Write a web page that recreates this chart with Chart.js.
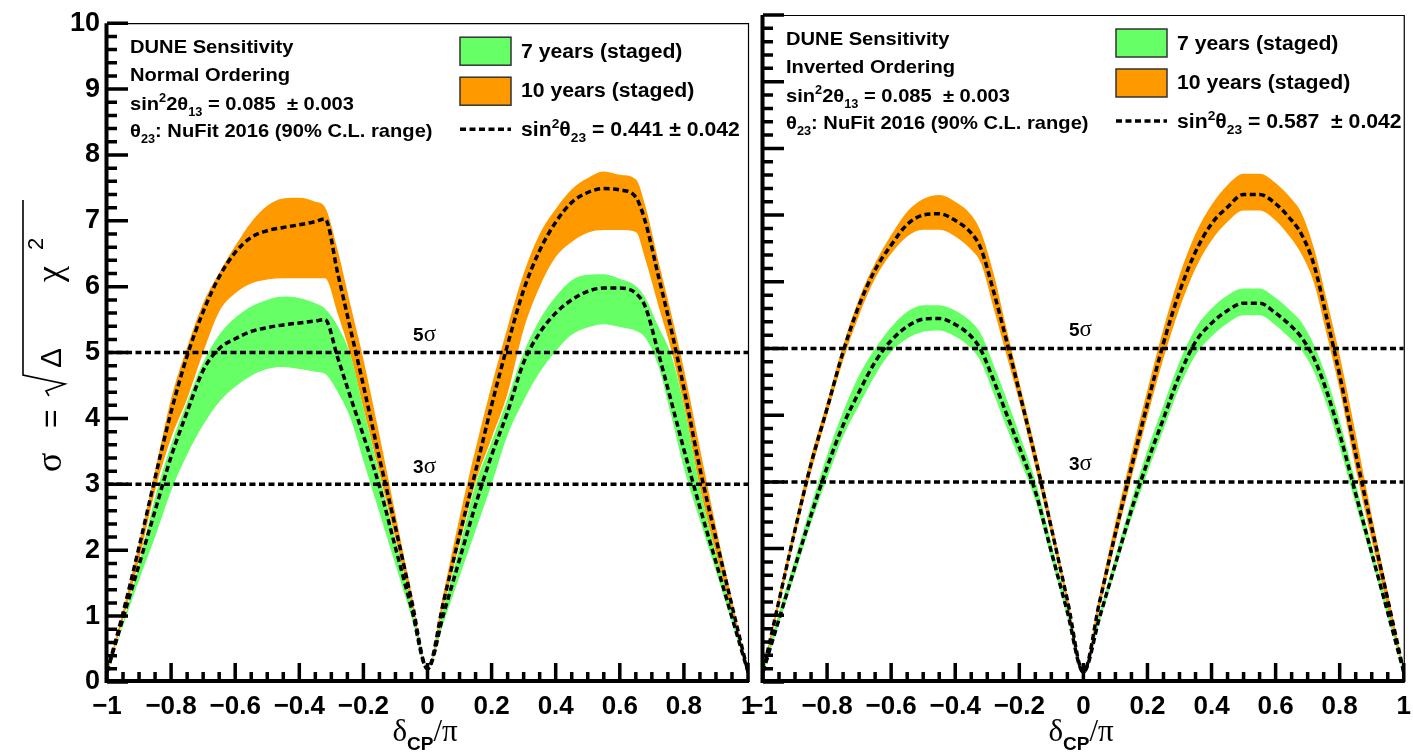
<!DOCTYPE html>
<html>
<head>
<meta charset="utf-8">
<script src="https://cdn.jsdelivr.net/npm/chart.js@4.4.1/dist/chart.umd.min.js"></script>
<style>
  html, body { margin: 0; padding: 0; background: #fff; overflow: hidden; }
  body { width: 1413px; height: 753px; position: relative; }
  canvas { position: absolute; top: 0; }
  #noChart { left: 0; width: 770px; height: 753px; }
  #ioChart { left: 720px; width: 700px; height: 753px; }
</style>
</head>
<body>
<canvas id="noChart" width="770" height="753"></canvas>
<canvas id="ioChart" width="700" height="753"></canvas>
<script>
// ── Data ─────────────────────────────────────────────────────
// delta_CP / pi sample points shared by every curve
const dcp = [-1, -0.95, -0.9, -0.85, -0.8, -0.75, -0.7, -0.65, -0.6, -0.55, -0.5, -0.45, -0.4, -0.35, -0.32,
             -0.28, -0.24, -0.2, -0.15, -0.1, -0.05, 0, 0.05, 0.1, 0.15, 0.2, 0.25, 0.3, 0.35, 0.4, 0.45,
             0.5, 0.55, 0.6, 0.65, 0.68, 0.72, 0.76, 0.8, 0.85, 0.9, 0.95, 1];

// Normal ordering: 10 years (orange) and 7 years (green), band edges + central curve
const noOrangeHi  = [0.15, 1.08, 2.1, 3.2, 4.3, 5.08, 5.75, 6.21, 6.62, 6.98, 7.23, 7.34, 7.35, 7.29, 7.21, 6.55, 5.72, 4.9, 3.75, 2.55, 1.35, 0.2,
                     1.35, 2.5, 3.54, 4.5, 5.39, 6.2, 6.8, 7.18, 7.48, 7.65, 7.75, 7.7, 7.63, 7.22, 6.4, 5.6, 4.75, 3.55, 2.36, 1.25, 0.15];
const noOrangeMid = [0.15, 1.05, 2.05, 3.1, 4.1, 4.95, 5.62, 6.15, 6.52, 6.75, 6.85, 6.9, 6.94, 6.99, 7.03, 6.2, 5.35, 4.5, 3.4, 2.35, 1.25, 0.2,
                     1.22, 2.23, 3.2, 4.2, 5.12, 5.95, 6.55, 6.98, 7.28, 7.43, 7.49, 7.47, 7.36, 6.98, 6.17, 5.36, 4.46, 3.24, 2.18, 1.16, 0.15];
const noOrangeLo  = [0.12, 0.95, 1.85, 2.9, 3.7, 4.3, 5.0, 5.62, 5.9, 6.05, 6.11, 6.13, 6.13, 6.13, 6.13, 5.59, 4.96, 4.16, 3.17, 2.18, 1.19, 0.2,
                     1.15, 2.1, 3.03, 3.7, 4.38, 5.35, 6.0, 6.45, 6.68, 6.82, 6.86, 6.86, 6.83, 6.41, 5.72, 5.05, 4.2, 2.95, 1.95, 1.05, 0.15];
const noGreenHi   = [0.12, 0.9, 1.8, 2.8, 3.6, 4.25, 4.85, 5.27, 5.53, 5.7, 5.8, 5.85, 5.83, 5.75, 5.67, 5.4, 4.96, 4.16, 3.15, 2.15, 1.18, 0.2,
                     1.12, 2.05, 3.0, 3.65, 4.3, 5.0, 5.5, 5.85, 6.1, 6.18, 6.19, 6.12, 6.01, 5.83, 5.4, 4.97, 4.2, 2.95, 1.95, 1.05, 0.15];
const noGreenMid  = [0.15, 0.97, 1.78, 2.6, 3.42, 4.1, 4.73, 5.06, 5.21, 5.32, 5.38, 5.42, 5.45, 5.48, 5.5, 4.92, 4.32, 3.74, 2.97, 2.04, 1.12, 0.2,
                     1.03, 1.86, 2.69, 3.44, 4.1, 4.85, 5.3, 5.6, 5.8, 5.93, 5.98, 5.98, 5.9, 5.69, 5.0, 4.27, 3.53, 2.65, 1.82, 0.98, 0.15];
const noGreenLo   = [0.12, 0.85, 1.55, 2.2, 2.9, 3.45, 3.9, 4.25, 4.48, 4.65, 4.75, 4.78, 4.75, 4.71, 4.68, 4.4, 4.0, 3.36, 2.57, 1.78, 0.99, 0.2,
                     0.9, 1.6, 2.3, 3.0, 3.75, 4.27, 4.7, 5.02, 5.27, 5.38, 5.43, 5.39, 5.33, 5.22, 4.8, 4.05, 3.25, 2.45, 1.68, 0.9, 0.15];

// Inverted ordering
const ioOrangeHi  = [0.18, 1.3, 2.38, 3.38, 4.2, 5.05, 5.75, 6.28, 6.7, 7.05, 7.24, 7.3, 7.2, 7.0, 6.75, 6.12, 5.3, 4.5, 3.5, 2.42, 1.3, 0.18,
                     1.3, 2.4, 3.42, 4.38, 5.3, 6.1, 6.72, 7.15, 7.45, 7.62, 7.62, 7.48, 7.24, 7.04, 6.5, 5.72, 4.9, 3.72, 2.5, 1.35, 0.18];
const ioOrangeMid = [0.15, 1.22, 2.28, 3.27, 4.1, 4.95, 5.65, 6.18, 6.55, 6.86, 7.0, 7.02, 6.92, 6.73, 6.5, 5.85, 5.12, 4.35, 3.36, 2.31, 1.23, 0.15,
                     1.19, 2.23, 3.22, 4.17, 5.08, 5.85, 6.45, 6.87, 7.12, 7.31, 7.31, 7.17, 6.92, 6.72, 6.25, 5.45, 4.6, 3.42, 2.32, 1.24, 0.15];
const ioOrangeLo  = [0.12, 1.15, 2.2, 3.15, 4.0, 4.82, 5.5, 6.05, 6.42, 6.68, 6.78, 6.78, 6.68, 6.48, 6.28, 5.6, 4.9, 4.2, 3.22, 2.2, 1.16, 0.12,
                     1.1, 2.1, 3.05, 3.98, 4.85, 5.6, 6.2, 6.62, 6.9, 7.07, 7.07, 6.92, 6.64, 6.42, 5.98, 5.2, 4.38, 3.2, 2.12, 1.1, 0.12];
const ioGreenHi   = [0.18, 1.05, 1.85, 2.65, 3.4, 4.05, 4.6, 5.0, 5.32, 5.55, 5.65, 5.65, 5.57, 5.4, 5.22, 4.75, 4.25, 3.72, 3.02, 2.08, 1.12, 0.18,
                     1.02, 1.88, 2.72, 3.48, 4.15, 4.8, 5.3, 5.6, 5.8, 5.9, 5.9, 5.76, 5.55, 5.4, 5.05, 4.55, 3.92, 2.98, 2.03, 1.1, 0.18];
const ioGreenMid  = [0.15, 0.94, 1.73, 2.5, 3.22, 3.85, 4.35, 4.8, 5.12, 5.33, 5.44, 5.45, 5.36, 5.18, 4.98, 4.52, 4.02, 3.52, 2.86, 1.95, 1.05, 0.15,
                     0.96, 1.77, 2.58, 3.3, 3.95, 4.6, 5.1, 5.38, 5.57, 5.68, 5.68, 5.53, 5.33, 5.17, 4.85, 4.35, 3.72, 2.82, 1.93, 1.04, 0.15];
const ioGreenLo   = [0.12, 0.88, 1.62, 2.38, 3.05, 3.68, 4.15, 4.6, 4.95, 5.15, 5.25, 5.27, 5.18, 5.0, 4.8, 4.32, 3.82, 3.35, 2.72, 1.85, 0.98, 0.12,
                     0.9, 1.68, 2.45, 3.14, 3.78, 4.42, 4.9, 5.18, 5.38, 5.5, 5.5, 5.35, 5.13, 4.98, 4.65, 4.15, 3.52, 2.66, 1.82, 0.98, 0.12];

// Significance reference levels (sigma)
const sigmaLevels = [3, 5];

// ── Styling ──────────────────────────────────────────────────
const SANS  = '"Liberation Sans", Arial, sans-serif';
const SERIF = '"Liberation Serif", "Times New Roman", serif';
const GREEN  = '#66ff66';
const ORANGE = '#ff9900';
const DASH   = [6, 3.5];

Chart.defaults.font.family = SANS;
Chart.defaults.color = '#000';

// ── Helpers ──────────────────────────────────────────────────
const pts = (ys) => dcp.map((x, i) => ({ x, y: ys[i] }));

// Text pieces with super/subscripts, drawn one after another
const bt  = (t, s = 19) => ({ t, font: `bold ${s}px ${SANS}` });
const sup = (t, s = 19) => ({ t, font: `bold ${Math.round(s * 0.65)}px ${SANS}`, dy: -s * 0.42 });
const sub = (t, s = 19) => ({ t, font: `bold ${Math.round(s * 0.65)}px ${SANS}`, dy: s * 0.3 });

function drawParts(ctx, x, y, parts, stretch = 1) {
    ctx.save();
    ctx.translate(x, y);
    ctx.scale(stretch, 1);
    ctx.fillStyle = '#000';
    ctx.textBaseline = 'alphabetic';
    ctx.textAlign = 'left';
    let cx = 0;
    for (const p of parts) {
        ctx.font = p.font;
        ctx.fillText(p.t, cx, p.dy || 0);
        cx += ctx.measureText(p.t).width;
    }
    ctx.restore();
}

function bandSets(hi, lo, color, order) {
    const common = { borderWidth: 0, borderColor: 'rgba(0,0,0,0)', pointRadius: 0,
                     cubicInterpolationMode: 'monotone', order };
    return [
        { ...common, data: pts(hi), fill: '+1', backgroundColor: color },
        { ...common, data: pts(lo), fill: false }
    ];
}

function dashedSet(data) {
    return { data, borderColor: '#000', borderWidth: 3.5, borderDash: DASH,
             borderCapStyle: 'butt', pointRadius: 0, fill: false,
             cubicInterpolationMode: 'monotone', order: 0 };
}

// ── Frame, inner ticks and all annotation text ───────────────
const decor = {
    id: 'decor',
    afterDatasetsDraw(chart, args, o) {
        const { ctx, chartArea: a, scales: { x, y } } = chart;
        ctx.save();
        ctx.strokeStyle = '#000';
        ctx.setLineDash([]);

        // thin top and right borders
        ctx.lineWidth = 1.2;
        ctx.beginPath();
        ctx.moveTo(a.left, a.top + 0.5);
        ctx.lineTo(a.right + 0.5, a.top + 0.5);
        ctx.lineTo(a.right + 0.5, a.bottom);
        ctx.stroke();

        // ticks pointing inwards (ROOT style)
        ctx.lineWidth = 3.5;
        ctx.beginPath();
        for (let i = 0; i <= 50; i++) {
            const py = y.getPixelForValue(i * 0.2);
            ctx.moveTo(a.left, py);
            ctx.lineTo(a.left + (i % 5 === 0 ? 21 : 10), py);
        }
        for (let i = 0; i <= 40; i++) {
            const px = x.getPixelForValue(-1 + i * 0.05);
            ctx.moveTo(px, a.bottom);
            ctx.lineTo(px, a.bottom - (i % 4 === 0 ? 19 : 10));
        }
        ctx.stroke();

        // thick left and bottom axes
        ctx.lineWidth = 4;
        ctx.beginPath();
        ctx.moveTo(a.left - 0.5, a.top);
        ctx.lineTo(a.left - 0.5, a.bottom - 1);
        ctx.lineTo(a.right + 1, a.bottom - 1);
        ctx.stroke();
        ctx.restore();
    },
    afterDraw(chart, args, o) {
        const { ctx, chartArea: a, scales: { x, y } } = chart;
        const L = a.left, T = a.top;

        // info block
        drawParts(ctx, L + 23, T + 30, [bt('DUNE Sensitivity')], 1.06);
        drawParts(ctx, L + 23, T + 58, [bt(o.ordering)], 1.06);
        drawParts(ctx, L + 23, T + 87, [bt('sin'), sup('2'), bt('2\u03b8'), sub('13'), bt(' = 0.085  \u00b1 0.003')], 1.06);
        drawParts(ctx, L + 23, T + 114, [bt('\u03b8'), sub('23'), bt(': NuFit 2016 (90% C.L. range)')], 1.06);

        // legend
        const bx = L + 353, bw = 51;
        ctx.save();
        ctx.lineWidth = 1.5;
        ctx.strokeStyle = '#333';
        [[GREEN, 14], [ORANGE, 54]].forEach(([c, by]) => {
            ctx.fillStyle = c;
            ctx.fillRect(bx, T + by, bw, 28);
            ctx.strokeRect(bx, T + by, bw, 28);
        });
        ctx.strokeStyle = '#000';
        ctx.lineWidth = 3.5;
        ctx.setLineDash(DASH);
        ctx.beginPath();
        ctx.moveTo(bx, T + 106);
        ctx.lineTo(bx + bw, T + 106);
        ctx.stroke();
        ctx.restore();
        drawParts(ctx, bx + 61, T + 35, [bt('7 years (staged)', 20)], 1.06);
        drawParts(ctx, bx + 61, T + 74, [bt('10 years (staged)', 20)], 1.06);
        drawParts(ctx, bx + 61, T + 113, [bt('sin', 20), sup('2', 20), bt('\u03b8', 20), sub('23', 20), bt(' = ' + o.theta, 20)], 1.06);

        // sigma level labels
        sigmaLevels.forEach(s => {
            drawParts(ctx, x.getPixelForValue(-0.045), y.getPixelForValue(s + 0.18),
                      [bt(String(s), 19), { t: '\u03c3', font: `23px ${SERIF}` }]);
        });

        // x-axis title: delta_CP / pi
        drawParts(ctx, x.getPixelForValue(0) - 35, a.bottom + 59, [
            { t: '\u03b4', font: `31px ${SERIF}` },
            { t: 'CP', font: `bold 19px ${SANS}`, dy: 9 },
            { t: '/\u03c0', font: `31px ${SERIF}` }
        ]);

        // y-axis title: sigma = sqrt(Delta chi^2)
        if (o.yTitle) {
            ctx.save();
            ctx.translate(61, 472);
            ctx.rotate(-Math.PI / 2);
            ctx.fillStyle = '#000';
            ctx.font = `36px ${SERIF}`;
            ctx.fillText('\u03c3', 0, 0);
            ctx.font = `32px ${SANS}`;
            ctx.fillText('=', 44, 0);
            ctx.strokeStyle = '#000';
            ctx.lineWidth = 1.6;
            ctx.beginPath();
            ctx.moveTo(76, -12);
            ctx.lineTo(81, -15);
            ctx.lineTo(88, 4);
            ctx.lineTo(97, -38);
            ctx.lineTo(272, -38);
            ctx.stroke();
            ctx.font = `30px ${SANS}`;
            ctx.fillText('\u0394', 104, 0);
            ctx.font = `36px ${SERIF}`;
            ctx.fillText('\u03c7', 190, 0);
            ctx.font = `22px ${SANS}`;
            ctx.fillText('2', 222, -18);
            ctx.restore();
        }
    }
};

// ── Build one panel ──────────────────────────────────────────
function makePanel(canvasId, d, o) {
    const datasets = [
        dashedSet(pts(d.orangeMid)),
        dashedSet(pts(d.greenMid)),
        ...sigmaLevels.map(s => dashedSet([{ x: -1, y: s }, { x: 1, y: s }])),
        ...bandSets(d.greenHi, d.greenLo, GREEN, 1),
        ...bandSets(d.orangeHi, d.orangeLo, ORANGE, 2)
    ];

    return new Chart(document.getElementById(canvasId), {
        type: 'line',
        data: { datasets },
        plugins: [decor],
        options: {
            responsive: false,
            devicePixelRatio: 1,
            animation: false,
            events: [],
            layout: { padding: { top: o.top, right: o.right, bottom: 0, left: 0 } },
            plugins: {
                legend: { display: false },
                tooltip: { enabled: false },
                decor: o
            },
            scales: {
                x: {
                    type: 'linear', min: -1, max: 1,
                    afterFit: (s) => { s.height = 71; },
                    grid: { display: false, drawTicks: false },
                    border: { display: false },
                    ticks: {
                        stepSize: 0.2, autoSkip: false, maxRotation: 0, padding: 9,
                        font: { size: 26, weight: 'bold' },
                        callback: (v) => {
                            const r = Math.round(v * 10) / 10;
                            return r < 0 ? '\u2212' + Math.abs(r) : String(r);
                        }
                    }
                },
                y: {
                    min: 0, max: 10,
                    afterFit: (s) => { s.width = o.yWidth; },
                    grid: { display: false, drawTicks: false },
                    border: { display: false },
                    ticks: {
                        display: o.yTitle, stepSize: 1, padding: 7,
                        font: { size: 27, weight: 'bold' }
                    }
                }
            }
        }
    });
}

makePanel('noChart', {
    orangeHi: noOrangeHi, orangeMid: noOrangeMid, orangeLo: noOrangeLo,
    greenHi: noGreenHi, greenMid: noGreenMid, greenLo: noGreenLo
}, { ordering: 'Normal Ordering', theta: '0.441 \u00b1 0.042', yTitle: true, yWidth: 107, top: 16, right: 22 });

makePanel('ioChart', {
    orangeHi: ioOrangeHi, orangeMid: ioOrangeMid, orangeLo: ioOrangeLo,
    greenHi: ioGreenHi, greenMid: ioGreenMid, greenLo: ioGreenLo
}, { ordering: 'Inverted Ordering', theta: '0.587  \u00b1 0.042', yTitle: false, yWidth: 43, top: 15, right: 12 });
</script>
</body>
</html>
